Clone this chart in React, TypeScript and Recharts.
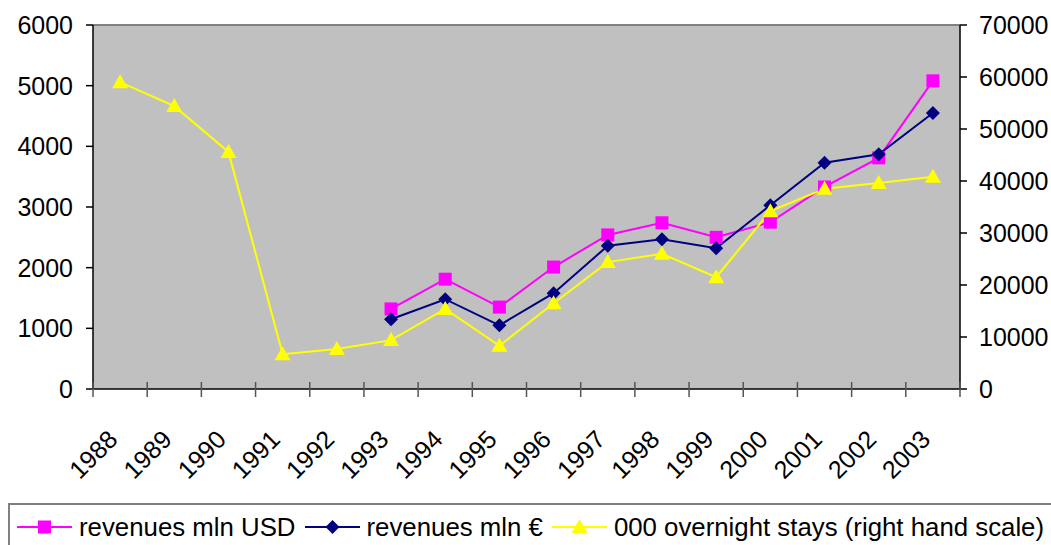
import {
  LineChart,
  Line,
  XAxis,
  YAxis,
  CartesianGrid,
  ReferenceLine,
  Legend,
} from 'recharts';

const years = [
  '1988', '1989', '1990', '1991', '1992', '1993', '1994', '1995',
  '1996', '1997', '1998', '1999', '2000', '2001', '2002', '2003',
];

// left hand scale
const revenuesUsd = [
  null, null, null, null, null, 1320, 1810, 1350,
  2010, 2540, 2740, 2500, 2750, 3330, 3810, 5080,
];
const revenuesEur = [
  null, null, null, null, null, 1150, 1480, 1050,
  1580, 2360, 2470, 2320, 3030, 3730, 3870, 4550,
];

// right hand scale
const overnightStays = [
  59000, 54400, 45600, 6700, 7700, 9400, 15400, 8300,
  16500, 24400, 26000, 21500, 34200, 38500, 39600, 40800,
];

const leftTicks = [0, 1000, 2000, 3000, 4000, 5000, 6000];
const rightTicks = [0, 10000, 20000, 30000, 40000, 50000, 60000, 70000];

const FONT = '"Liberation Sans", Arial, sans-serif';

const data = years.map((year, i) => ({
  year,
  usd: revenuesUsd[i],
  eur: revenuesEur[i],
  stays: overnightStays[i],
}));

const series = [
  { key: 'usd', name: 'revenues mln USD', color: '#ff00ff', shape: 'square' },
  { key: 'eur', name: 'revenues mln €', color: '#000080', shape: 'diamond' },
  { key: 'stays', name: '000 overnight stays (right hand scale)', color: '#ffff00', shape: 'triangle' },
];

function Marker({ cx, cy, shape, color }: any) {
  if (cx == null || cy == null || Number.isNaN(cx) || Number.isNaN(cy)) return <g />;
  if (shape === 'square') {
    return <rect x={cx - 6.5} y={cy - 6.5} width={13} height={13} fill={color} />;
  }
  if (shape === 'diamond') {
    return (
      <polygon
        points={`${cx},${cy - 7} ${cx + 7},${cy} ${cx},${cy + 7} ${cx - 7},${cy}`}
        fill={color}
      />
    );
  }
  return (
    <polygon
      points={`${cx},${cy - 8} ${cx + 8},${cy + 6} ${cx - 8},${cy + 6}`}
      fill={color}
    />
  );
}

// year label, plus the tick marks on the category boundaries (Excel style)
function YearTick({ x, y, payload, index }: any) {
  const half = payload.offset || 0;
  const ax = x - 1;
  const ay = y + 52;
  return (
    <g>
      <line x1={x - half} y1={y - 7} x2={x - half} y2={y + 8} stroke="#555" strokeWidth={1.5} />
      {index === years.length - 1 && (
        <line x1={x + half} y1={y - 7} x2={x + half} y2={y + 8} stroke="#555" strokeWidth={1.5} />
      )}
      <text
        x={ax}
        y={ay}
        textAnchor="end"
        transform={`rotate(-45, ${ax}, ${ay})`}
        fontSize={25}
        fontFamily={FONT}
        fill="#000"
      >
        {payload.value}
      </text>
    </g>
  );
}

function LegendBox() {
  return (
    <div
      style={{
        boxSizing: 'border-box',
        width: 1043,
        height: 42,
        borderTop: '2px solid #808080',
        borderLeft: '2px solid #808080',
        display: 'flex',
        alignItems: 'center',
        paddingLeft: 7,
        paddingTop: 4,
        fontFamily: FONT,
        fontSize: 25.8,
        color: '#000',
        whiteSpace: 'nowrap',
      }}
    >
      {series.map((s) => (
        <div key={s.key} style={{ display: 'flex', alignItems: 'center', marginRight: 9 }}>
          <svg width={55} height={20} style={{ display: 'block' }}>
            <line x1={0} y1={10} x2={55} y2={10} stroke={s.color} strokeWidth={2} />
            <Marker cx={27.5} cy={10} shape={s.shape} color={s.color} />
          </svg>
          <span style={{ marginLeft: 7 }}>{s.name}</span>
        </div>
      ))}
    </div>
  );
}

export default function App() {
  return (
    <div style={{ position: 'absolute', left: 0, top: 0, background: '#fff' }}>
      <LineChart
        width={1051}
        height={545}
        data={data}
        margin={{ top: 25, right: 0, left: 0, bottom: 0 }}
      >
        <XAxis
          xAxisId="cat"
          dataKey="year"
          scale="band"
          interval={0}
          axisLine={{ stroke: '#000', strokeWidth: 1.5 }}
          tickLine={false}
          tickSize={0}
          tickMargin={0}
          height={156}
          tick={<YearTick />}
        />
        <YAxis
          yAxisId="l"
          orientation="left"
          width={93}
          domain={[0, 6000]}
          ticks={leftTicks}
          interval={0}
          tickSize={7}
          tickMargin={13}
          stroke="#000"
          strokeWidth={1.5}
          tick={{ fill: '#000', fontSize: 25, fontFamily: FONT }}
        />
        <YAxis
          yAxisId="r"
          orientation="right"
          width={91}
          domain={[0, 70000]}
          ticks={rightTicks}
          interval={0}
          tickSize={7}
          tickMargin={12}
          stroke="#000"
          strokeWidth={1.5}
          tick={{ fill: '#000', fontSize: 25, fontFamily: FONT, textAnchor: 'start' }}
        />
        <CartesianGrid
          xAxisId="cat"
          yAxisId="l"
          horizontal={false}
          vertical={false}
          fill="#c0c0c0"
          fillOpacity={1}
          stroke="none"
        />
        <ReferenceLine xAxisId="cat" yAxisId="l" y={6000} stroke="#808080" strokeWidth={2} />
        {series.map((s) => (
          <Line
            key={s.key}
            xAxisId="cat"
            yAxisId={s.key === 'stays' ? 'r' : 'l'}
            type="linear"
            dataKey={s.key}
            name={s.name}
            stroke={s.color}
            strokeWidth={2}
            connectNulls={false}
            isAnimationActive={false}
            dot={(p: any) => <Marker key={p.index} cx={p.cx} cy={p.cy} shape={s.shape} color={s.color} />}
            activeDot={false}
          />
        ))}
        <Legend
          layout="horizontal"
          verticalAlign="middle"
          align="center"
          content={() => <LegendBox />}
          wrapperStyle={{ left: 8, top: 503, width: 1043, height: 42, margin: 0 }}
        />
      </LineChart>
    </div>
  );
}
